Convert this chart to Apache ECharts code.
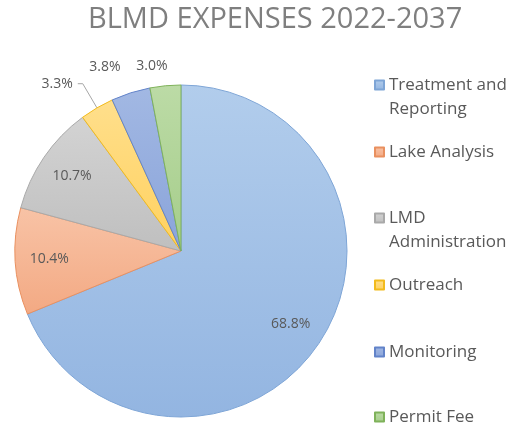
<!DOCTYPE html>
<html>
<head>
<meta charset="utf-8">
<script src="https://cdn.jsdelivr.net/npm/echarts@6/dist/echarts.min.js"></script>
<style>
  html, body { margin: 0; padding: 0; background: #fff; }
  #chart { width: 522px; height: 425px; }
</style>
</head>
<body>
<div id="chart"></div>
<script>
var chartDom = document.getElementById('chart');
var myChart = echarts.init(chartDom);

// data
var categories = ['Treatment and Reporting', 'Lake Analysis', 'LMD Administration', 'Outreach', 'Monitoring', 'Permit Fee'];
var shares = [68.8, 10.4, 10.7, 3.3, 3.8, 3.0];

// style per slice: [top colour, bottom colour, border]
var sliceColors = [
  ['#b2cdec', '#93b5e1', '#7ea5d6'],
  ['#f8c3a6', '#f3a983', '#e9905f'],
  ['#d3d3d3', '#bfbfbf', '#a9a9a9'],
  ['#ffdf8c', '#ffd15e', '#f2bb1c'],
  ['#a2b8e3', '#8aa4da', '#6283c9'],
  ['#bcdba6', '#a5cd8a', '#7fb25a']
];
// y of each legend icon centre
var legendRows = [85, 152, 218, 285, 352, 417];
var twoLineItems = [true, false, true, false, false, false];
var bigSlice = [true, true, true, false, false, false];

var font = 'Open Sans';
var legendLine = 24;

function sliceStyle(i) {
  var c = sliceColors[i];
  return {
    color: new echarts.graphic.LinearGradient(0, 0, 0, 1, [
      { offset: 0, color: c[0] },
      { offset: 1, color: c[1] }
    ]),
    borderColor: c[2],
    borderWidth: 1
  };
}

var mainData = categories.map(function (name, i) {
  var item = { name: name, value: shares[i], itemStyle: sliceStyle(i) };
  if (bigSlice[i]) {
    item.label = { show: false };
    item.labelLine = { show: false };
  } else if (i === 3) {
    item.labelLine = { show: true, length: 28, length2: 5 };
  } else {
    item.labelLine = { show: false, length: i === 4 ? 27 : 20, length2: 0 };
  }
  return item;
});

var labelData = categories.map(function (name, i) {
  return {
    name: name,
    value: shares[i],
    label: { show: bigSlice[i] }
  };
});

var legends = categories.map(function (name, i) {
  var two = twoLineItems[i];
  return {
    data: [name],
    orient: 'vertical',
    left: 374,
    // a blank first line keeps the icon level with the first text line
    top: legendRows[i] - (two ? legendLine * 1.5 : legendLine / 2),
    padding: 0,
    icon: 'rect',
    itemWidth: 9,
    itemHeight: 9,
    itemGap: 5,
    selectedMode: false,
    formatter: function (n) { return two ? '\n' + n : n; },
    textStyle: {
      fontFamily: font,
      fontSize: 17,
      color: '#595959',
      width: 132,
      overflow: 'break',
      lineHeight: legendLine
    }
  };
});

var option = {
  animation: false,
  title: {
    text: 'BLMD EXPENSES 2022-2037',
    left: 88,
    top: 5,
    padding: 0,
    textStyle: {
      fontFamily: font,
      fontSize: 29,
      fontWeight: 'normal',
      color: '#7f7f7f'
    }
  },
  legend: legends,
  series: [
    {
      name: 'Expenses',
      type: 'pie',
      center: [181, 251],
      radius: 166,
      startAngle: 90,
      clockwise: true,
      avoidLabelOverlap: false,
      label: {
        show: true,
        position: 'outside',
        formatter: function (p) { return p.value.toFixed(1) + '%'; },
        fontFamily: font,
        fontSize: 14,
        color: '#595959'
      },
      labelLine: {
        lineStyle: { color: '#a6a6a6', width: 1 }
      },
      labelLayout: function (params) {
        if (params.dataIndex === 5) return { dx: 9 };
        if (params.dataIndex === 4) return { dx: 3 };
        return {};
      },
      data: mainData
    },
    {
      // label ring for the big slices
      name: 'Labels',
      type: 'pie',
      center: [181, 251],
      radius: [92, 166],
      startAngle: 90,
      clockwise: true,
      silent: true,
      itemStyle: { color: 'rgba(0,0,0,0)' },
      label: {
        position: 'inside',
        formatter: function (p) { return p.value.toFixed(1) + '%'; },
        fontFamily: font,
        fontSize: 14,
        color: '#595959'
      },
      labelLine: { show: false },
      data: labelData
    }
  ]
};

myChart.setOption(option);
</script>
</body>
</html>
